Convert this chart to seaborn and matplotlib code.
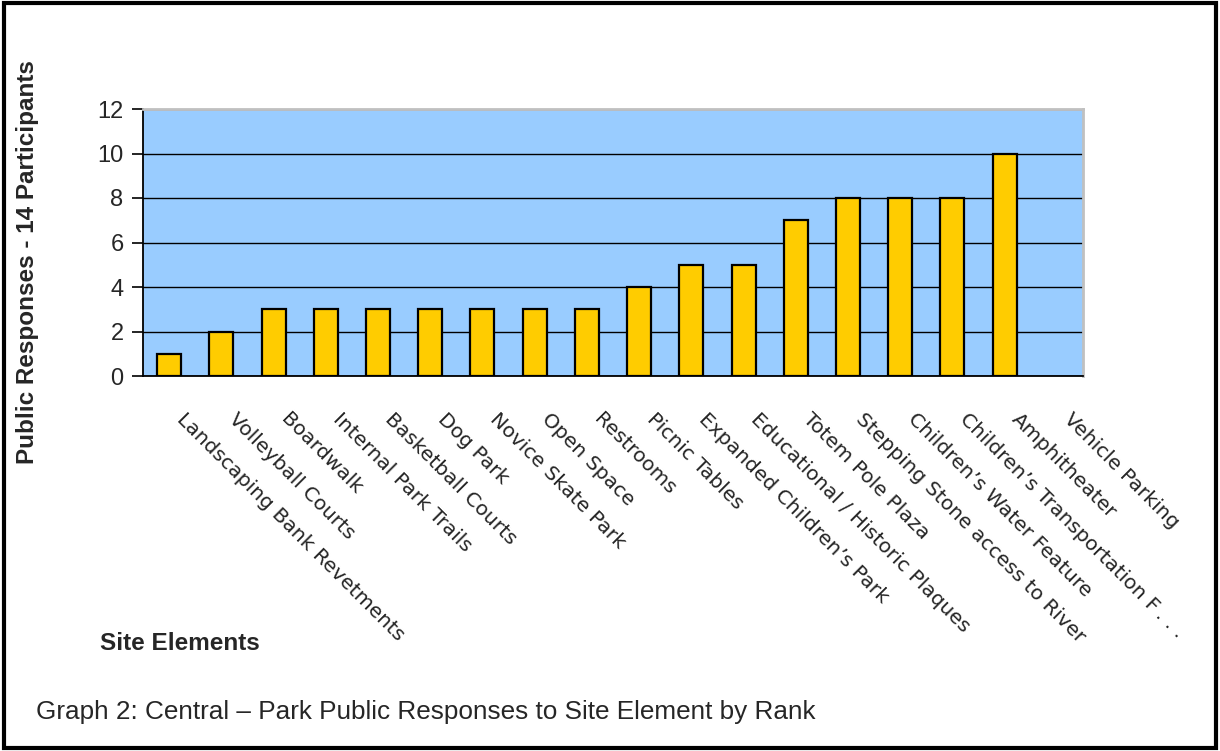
import matplotlib
matplotlib.use("Agg")
import matplotlib.pyplot as plt
import matplotlib.transforms as mtransforms
from matplotlib.patches import Rectangle
import seaborn as sns
import pandas as pd
import numpy as np

# Site elements ranked by number of public responses
site_elements = [
    "Landscaping Bank Revetments",
    "Volleyball Courts",
    "Boardwalk",
    "Internal Park Trails",
    "Basketball Courts",
    "Dog Park",
    "Novice Skate Park",
    "Open Space",
    "Restrooms",
    "Picnic Tables",
    "Expanded Children\u2019s Park",
    "Educational / Historic Plaques",
    "Totem Pole Plaza",
    "Stepping Stone access to River",
    "Children\u2019s Water Feature",
    "Children\u2019s Transportation F\u2009. . .",
    "Amphitheater",
    "Vehicle Parking",
]
responses = [1, 2, 3, 3, 3, 3, 3, 3, 3, 4, 5, 5, 7, 8, 8, 8, 10, 0]
y_ticks = [0, 2, 4, 6, 8, 10, 12]

df = pd.DataFrame({"element": site_elements, "responses": responses})

sns.set_style("white")
plt.rcParams["font.family"] = ["Liberation Sans", "DejaVu Sans"]

fig = plt.figure(figsize=(12.2, 7.51), dpi=100)
ax = fig.add_axes([143 / 1220, 1 - 376 / 751, 940 / 1220, 267 / 751])

sns.barplot(data=df, x="element", y="responses", ax=ax, color="#FFCC00",
            saturation=1, width=0.46, edgecolor="black", linewidth=1.6,
            zorder=3)
# a zero-response bar has no visible outline
for bar, v in zip(ax.patches, responses):
    if v == 0:
        bar.set_linewidth(0)

ax.set_facecolor("#99CCFF")
ax.set_xlim(-0.5, len(site_elements) - 0.5)
ax.set_ylim(0, 12)
ax.set_yticks(y_ticks)
ax.set_yticklabels([str(v) for v in y_ticks], fontsize=17)
ax.grid(axis="y", color="black", linewidth=1.0, zorder=1)
ax.set_axisbelow(True)

# category labels at bar centres, tick marks between categories
n = len(site_elements)
ax.set_xticks(np.arange(n))
ax.set_xticks(np.arange(n + 1) - 0.5, minor=True)
ax.tick_params(axis="x", which="major", length=0, pad=24)
ax.tick_params(axis="x", which="minor", length=8, width=1.2, color="black",
               direction="out")
ax.tick_params(axis="y", which="major", length=8, width=1.2, color="black",
               direction="out", left=True, pad=6)
ax.set_xticklabels(site_elements, rotation=-45, ha="left", va="top",
                   rotation_mode="anchor", fontsize=14.6,
                   family=["DejaVu Sans"])
offset = mtransforms.ScaledTranslation(17 / 100, 0, fig.dpi_scale_trans)
for lbl in ax.get_xticklabels():
    lbl.set_transform(lbl.get_transform() + offset)

for side in ("left", "bottom"):
    ax.spines[side].set_color("black")
    ax.spines[side].set_linewidth(1.3)
for side in ("top", "right"):
    ax.spines[side].set_visible(True)
    ax.spines[side].set_color("#C0C0C0")
    ax.spines[side].set_linewidth(2.0)

ax.set_xlabel("")
ax.set_ylabel("")

fig.text(28 / 1220, 1 - 262 / 751, "Public Responses - 14 Participants",
         rotation=90, ha="center", va="center", fontsize=17.5,
         fontweight="bold")
fig.text(100 / 1220, 1 - 643 / 751, "Site Elements", ha="left",
         va="center", fontsize=17.5, fontweight="bold")
fig.text(36 / 1220, 1 - 712 / 751,
         "Graph 2: Central \u2013 Park Public Responses to Site Element by Rank",
         ha="left", va="center", fontsize=18.8,
         family=["Liberation Sans Narrow", "Liberation Sans", "DejaVu Sans"])

# outer frame around the figure
fig.patches.append(Rectangle((4 / 1220, 3 / 751), 1212 / 1220, 745 / 751,
                             transform=fig.transFigure, fill=False,
                             edgecolor="black", linewidth=3))

fig.savefig("out.png", dpi=100)
